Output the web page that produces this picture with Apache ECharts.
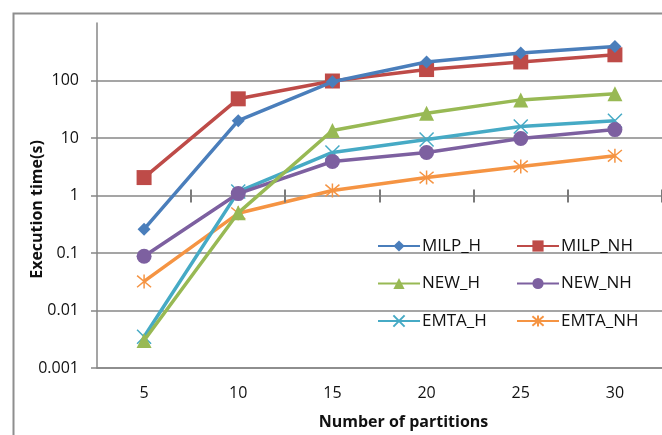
<!DOCTYPE html>
<html>
<head>
<meta charset="utf-8">
<script src="https://cdn.jsdelivr.net/npm/echarts@6/dist/echarts.min.js"></script>
<style>
html,body{margin:0;padding:0;background:#fff;}
#chart{width:662px;height:435px;}
</style>
</head>
<body>
<div id="chart"></div>
<script>
const categories = ['5', '10', '15', '20', '25', '30'];
const yTicks = [0.001, 0.01, 0.1, 1, 10, 100];
const xAxisCross = 1;
const seriesNames = ['MILP_H', 'MILP_NH', 'NEW_H', 'NEW_NH', 'EMTA_H', 'EMTA_NH'];
const milpH  = [0.26, 20, 95, 210, 300, 390];
const milpNH = [2.05, 48, 98, 155, 210, 280];
const newH   = [0.003, 0.5, 13.5, 27, 46, 59];
const newNH  = [0.088, 1.08, 3.9, 5.6, 9.8, 14];
const emtaH  = [0.0035, 1.17, 5.6, 9.4, 15.8, 20];
const emtaNH = [0.032, 0.49, 1.22, 2.05, 3.2, 4.9];

const colors = ['#4A7EBB', '#BE4B48', '#98B954', '#7D60A0', '#46AAC5', '#F59443'];
const symbols = [
  'diamond', 'rect', 'triangle', 'circle',
  'path://M0,0 L10,10 M10,0 L0,10',
  'path://M0,0 L10,10 M10,0 L0,10 M5,-1 L5,11'
];
const sizes = [13, 15, 15, 15, 14, 14];
const values = [milpH, milpNH, newH, newNH, emtaH, emtaNH];

const font = '"Open Sans", "Liberation Sans", sans-serif';
const gray = '#878787';

const lineSeries = seriesNames.map((n, i) => ({
  name: n, type: 'line', data: values[i],
  symbol: symbols[i], symbolSize: sizes[i],
  lineStyle: { color: colors[i], width: 3.5 },
  itemStyle: { color: colors[i], borderColor: colors[i], borderWidth: i >= 4 ? 1.5 : 0 },
  emphasis: { disabled: true },
  z: 10 - i
}));

// tick marks of the horizontal axis, which crosses the value axis at 1
const tickSeries = {
  type: 'custom', z: 20,
  data: categories.map((c, i) => [i, xAxisCross]),
  renderItem: function (params, api) {
    const p = api.coord([api.value(0), api.value(1)]);
    const w = api.size([1, 0])[0];
    const x = Math.round(p[0] + w / 2);
    return {
      type: 'line',
      shape: { x1: x, y1: p[1] - 6, x2: x, y2: p[1] + 7 },
      style: { stroke: '#7a7a7a', lineWidth: 2 }
    };
  }
};

const chart = echarts.init(document.getElementById('chart'));
chart.setOption({
  backgroundColor: '#fff',
  animation: false,
  textStyle: { fontFamily: font },
  grid: { left: 97, top: 23, right: -5, height: 346, containLabel: false },
  legend: [
    {
      orient: 'vertical', left: 372, top: 231, itemWidth: 42, itemHeight: 14, itemGap: 17.5,
      data: [seriesNames[0], seriesNames[2], seriesNames[4]],
      textStyle: { fontSize: 17, color: '#111', lineHeight: 20, padding: [0, 0, 0, -3] }
    },
    {
      orient: 'vertical', left: 511, top: 231, itemWidth: 42, itemHeight: 14, itemGap: 17.5,
      data: [seriesNames[1], seriesNames[3], seriesNames[5]],
      textStyle: { fontSize: 17, color: '#111', lineHeight: 20, padding: [0, 0, 0, -3] }
    }
  ],
  xAxis: {
    type: 'category', data: categories, boundaryGap: true,
    name: 'Number of partitions', nameLocation: 'middle', nameGap: 46,
    nameTextStyle: { fontSize: 16, fontWeight: 'bold', color: '#111', padding: [0, 0, 0, 48] },
    axisLine: { lineStyle: { color: gray, width: 1.5 } },
    axisTick: { show: false },
    axisLabel: { fontSize: 16, color: '#111', margin: 17 },
    splitLine: { show: false }
  },
  yAxis: {
    type: 'log', logBase: 10, min: 0.001, max: 1000,
    name: 'Execution time(s)', nameLocation: 'middle', nameGap: 52, nameRotate: 90,
    nameMoveOverlap: false,
    nameTextStyle: { fontSize: 16, fontWeight: 'bold', color: '#111', padding: [0, 28, 0, 0] },
    axisLine: { show: true, lineStyle: { color: gray, width: 1.5 } },
    axisTick: { show: true, length: 6, customValues: yTicks, lineStyle: { color: gray, width: 1.5 } },
    axisLabel: {
      fontSize: 16, color: '#111', margin: 18, customValues: yTicks,
      formatter: v => String(v)
    },
    splitLine: { show: true, lineStyle: { color: gray, width: 1.5 } }
  },
  series: lineSeries.concat([tickSeries])
});
chart.setOption({ graphic: [
  { type: 'rect', left: 11, top: 11, z: -10, shape: { width: 720, height: 500 },
    style: { fill: 'none', stroke: '#8e8e8e', lineWidth: 2 } }
] });
</script>
</body>
</html>
